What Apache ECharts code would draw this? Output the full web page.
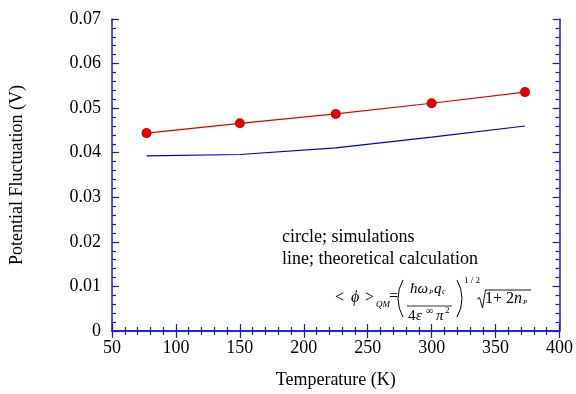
<!DOCTYPE html>
<html>
<head>
<meta charset="utf-8">
<script src="https://cdn.jsdelivr.net/npm/echarts@6/dist/echarts.min.js"></script>
<style>html,body{margin:0;padding:0;background:#fff;}#c{width:576px;height:394px;}</style>
</head>
<body>
<div id="c"></div>
<script>
const temps = [77, 150, 225, 300, 373];
const simValues = [0.0444, 0.0466, 0.0487, 0.0511, 0.0536];
const theoryValues = [0.0393, 0.0396, 0.0411, 0.0435, 0.0460];
const xTicks = [50, 100, 150, 200, 250, 300, 350, 400];
const yTicks = [0, 0.01, 0.02, 0.03, 0.04, 0.05, 0.06, 0.07];

const F = '"Liberation Serif", "Times New Roman", serif';
const AX = '#1a1ad8';
const chart = echarts.init(document.getElementById('c'), null, {renderer: 'canvas'});

function axisCommon(showLabel) {
  return {
    axisLine: {show: true, lineStyle: {color: AX, width: 1.5}},
    axisTick: {show: true, inside: true, length: 7, lineStyle: {color: AX, width: 1.2}},
    minorTick: {show: true, splitNumber: 5, length: 4, lineStyle: {color: AX, width: 1.2}},
    splitLine: {show: false},
    axisLabel: {show: showLabel, color: '#000', fontFamily: F, fontSize: 18}
  };
}

function txt(x, y, s, font) {
  return {type: 'text', x: x, y: y, silent: true,
    style: {text: s, font: font + ' ' + F, fill: '#000', verticalAlign: 'middle'}};
}
const PR = 36.7, PA = 0.53;

const option = {
  animation: false,
  grid: {left: 112, right: 16, top: 19, bottom: 61},
  xAxis: [
    Object.assign(axisCommon(true), {
      type: 'value', min: xTicks[0], max: xTicks[xTicks.length - 1], interval: 50,
      position: 'bottom',
      name: 'Temperature (K)', nameLocation: 'middle', nameGap: 40,
      nameTextStyle: {color: '#000', fontFamily: F, fontSize: 18}
    }),
    Object.assign(axisCommon(false), {
      type: 'value', min: xTicks[0], max: xTicks[xTicks.length - 1], interval: 50,
      position: 'top'
    })
  ],
  yAxis: [
    Object.assign(axisCommon(true), {
      type: 'value', min: yTicks[0], max: yTicks[yTicks.length - 1], interval: 0.01,
      position: 'left',
      name: 'Potential Fluctuation (V)', nameLocation: 'middle', nameGap: 86,
      nameTextStyle: {color: '#000', fontFamily: F, fontSize: 18}
    }),
    Object.assign(axisCommon(false), {
      type: 'value', min: yTicks[0], max: yTicks[yTicks.length - 1], interval: 0.01,
      position: 'right'
    })
  ],
  series: [
    {
      type: 'line', xAxisIndex: 0, yAxisIndex: 0,
      data: temps.map((t, i) => [t, theoryValues[i]]),
      showSymbol: false, symbol: 'none',
      lineStyle: {color: '#0000d0', width: 1.2}
    },
    {
      type: 'line', xAxisIndex: 0, yAxisIndex: 0,
      data: temps.map((t, i) => [t, simValues[i]]),
      symbol: 'circle', symbolSize: 10,
      itemStyle: {color: '#e00000'},
      lineStyle: {color: '#e00000', width: 1.2}
    }
  ],
  graphic: [
    txt(282, 237, 'circle; simulations', '18px'),
    txt(282, 259, 'line; theoretical calculation', '18px'),
    // formula
    txt(335, 298, '<', '16px'),
    txt(351, 298, 'ϕ', 'italic 16px'),
    txt(365, 298, '>', '16px'),
    txt(376, 305, 'QM', 'italic 9px'),
    txt(389, 297, '=', '16px'),
    {type: 'arc', silent: true, shape: {cx: 398 + PR, cy: 298.5, r: PR, startAngle: Math.PI - PA, endAngle: Math.PI + PA, clockwise: true},
      style: {stroke: '#000', lineWidth: 1, fill: null}},
    {type: 'arc', silent: true, shape: {cx: 462 - PR, cy: 298.5, r: PR, startAngle: -PA, endAngle: PA, clockwise: true},
      style: {stroke: '#000', lineWidth: 1, fill: null}},
    txt(410, 289, 'ħω', 'italic 15px'),
    txt(429, 292, 'P', 'italic 7px'),
    txt(434, 289, 'q', 'italic 15px'),
    txt(442, 292, 'c', 'italic 8px'),
    {type: 'line', silent: true, shape: {x1: 407, y1: 306, x2: 452, y2: 306}, style: {stroke: '#000', lineWidth: 0.8}},
    txt(408, 316, '4', '15px'),
    txt(416, 316, 'ε', 'italic 15px'),
    txt(426, 311, '∞', '10px'),
    txt(436, 316, 'π', 'italic 15px'),
    txt(445, 311, '2', '9px'),
    txt(464, 281, '1 / 2', '9px'),
    {type: 'polyline', silent: true, shape: {points: [[477, 299], [479.5, 297.5], [482.5, 308], [485.5, 290], [531, 290]]},
      style: {stroke: '#000', lineWidth: 0.9, fill: null}},
    txt(485, 299, '1', '16px'),
    txt(493, 299, '+', '16px'),
    txt(506, 299, '2', '16px'),
    txt(514, 299, 'n', 'italic 16px'),
    txt(523, 302, 'P', 'italic 7px')
  ]
};
option.yAxis[0].axisLabel.formatter = v => (v === 0 ? '0' : v.toFixed(2));
option.yAxis[0].axisLabel.margin = 11;
option.xAxis[0].axisLabel.margin = 8;
chart.setOption(option);
</script>
</body>
</html>
